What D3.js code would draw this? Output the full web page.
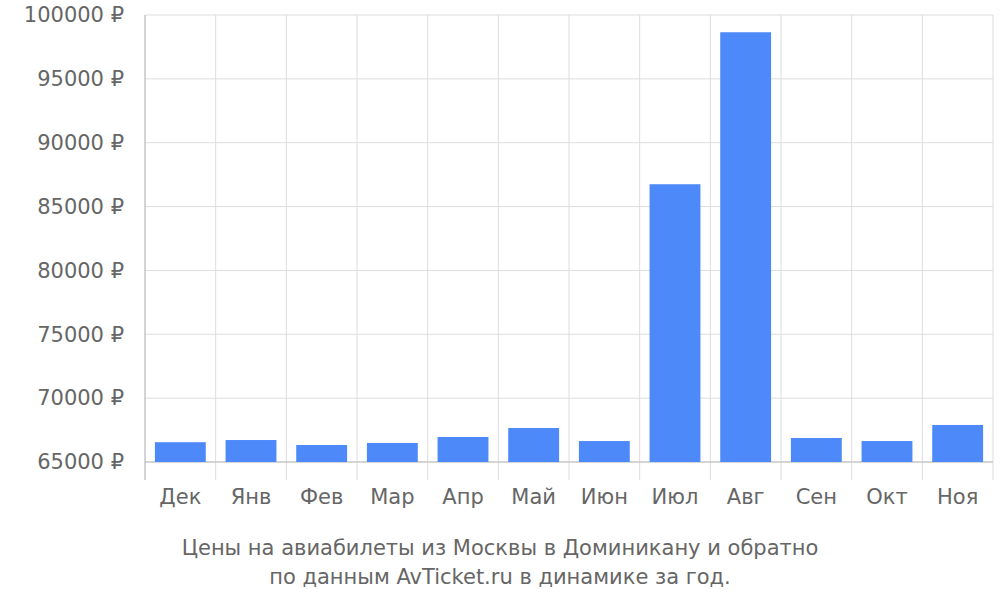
<!DOCTYPE html>
<html><head><meta charset="utf-8">
<script src="https://cdn.jsdelivr.net/npm/d3@7"></script>
<style>body{margin:0;background:#fff}svg{font-family:"DejaVu Sans",sans-serif}</style>
</head><body><svg width="1000" height="600"></svg>
<script>
const months = ["Дек","Янв","Фев","Мар","Апр","Май","Июн","Июл","Авг","Сен","Окт","Ноя"];
const prices = [66550,66720,66330,66490,66960,67660,66640,86750,98650,66880,66640,67900];
const yTicks = [65000,70000,75000,80000,85000,90000,95000,100000];
const titleLines = ["Цены на авиабилеты из Москвы в Доминикану и обратно","по данным AvTicket.ru в динамике за год."];

const svg = d3.select("svg");
const L=145,R=993,T=15,B=462;
const x = d3.scaleBand().domain(months).range([L,R]).paddingInner(0.28).paddingOuter(0.14);
const xb = d3.scaleLinear().domain([0,12]).range([L,R]);
const y = d3.scaleLinear().domain([65000,100000]).range([B,T]);

svg.append("g").selectAll("line").data(yTicks).join("line")
  .attr("x1",L).attr("x2",R).attr("y1",d=>y(d)).attr("y2",d=>y(d)).attr("stroke","#ddd");
svg.append("g").selectAll("line").data(d3.range(1,13)).join("line")
  .attr("x1",d=>xb(d)).attr("x2",d=>xb(d)).attr("y1",T).attr("y2",480).attr("stroke","#ddd");
svg.append("line").attr("x1",L).attr("x2",L).attr("y1",T).attr("y2",480).attr("stroke","#aaa");
svg.append("line").attr("x1",L).attr("x2",R).attr("y1",B).attr("y2",B).attr("stroke","#bbb");

svg.append("g").selectAll("rect").data(prices).join("rect")
  .attr("x",(d,i)=>x(months[i])).attr("width",x.bandwidth())
  .attr("y",d=>y(d)).attr("height",d=>B-y(d)).attr("fill","#4d89f9");

svg.append("g").selectAll("text").data(yTicks).join("text")
  .attr("x",124).attr("y",d=>y(d)).attr("dy","0.35em").attr("text-anchor","end")
  .attr("font-size",21).attr("fill","#666").text(d=>d+" ₽");
svg.append("g").selectAll("text").data(months).join("text")
  .attr("x",d=>x(d)+x.bandwidth()/2).attr("y",504).attr("text-anchor","middle")
  .attr("font-size",21).attr("fill","#666").text(d=>d);
svg.append("g").selectAll("text").data(titleLines).join("text")
  .attr("x",500).attr("y",(d,i)=>555+i*29).attr("text-anchor","middle")
  .attr("font-size",21).attr("fill","#666").text(d=>d);
</script></body></html>
